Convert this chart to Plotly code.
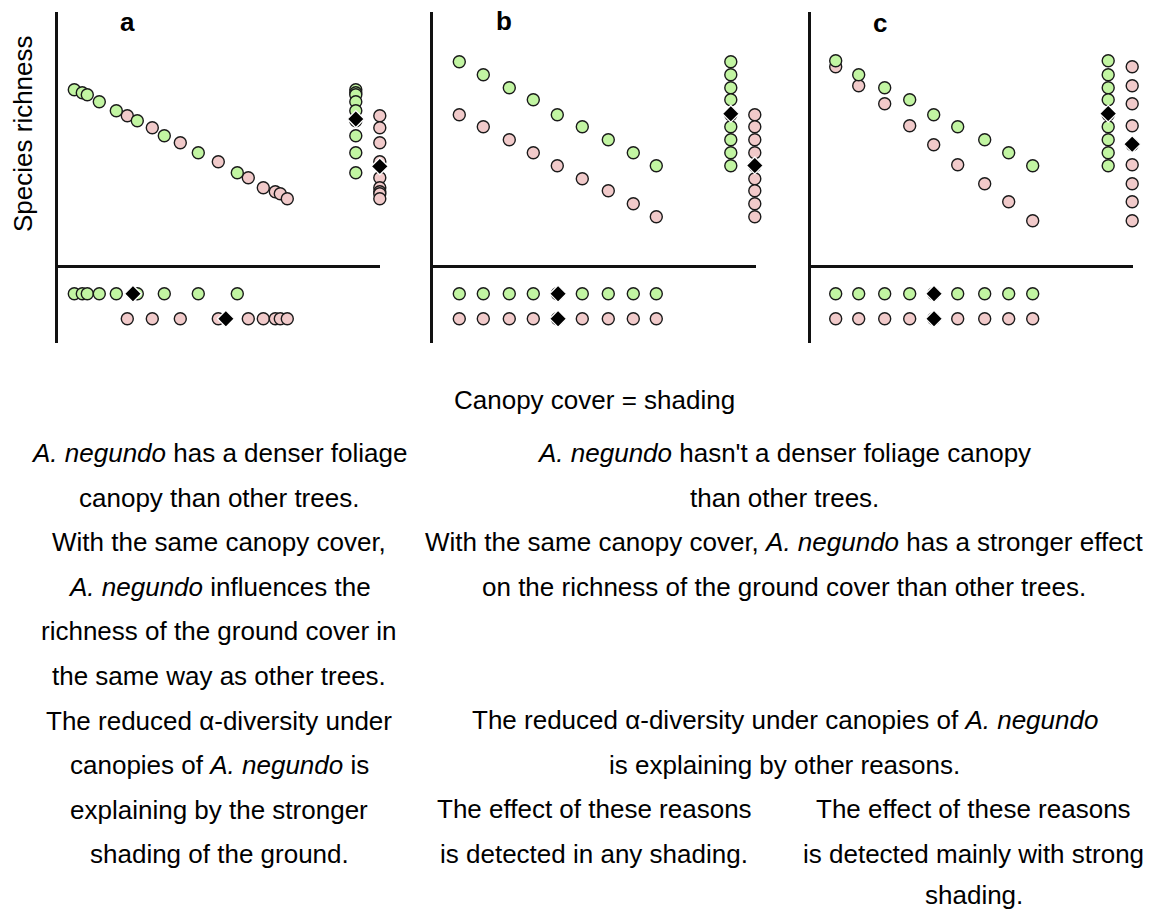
import numpy as np
import plotly.graph_objects as go

# ---- data: canopy cover (x) and species richness (y) -------------------------
# "other" = plots under other trees (green), "negundo" = plots under A. negundo (pink)
a_cover_other = [16, 24, 29, 41, 58, 79, 106, 140, 179]
a_rich_other = [177, 174, 172, 165, 156, 146, 131, 114, 94]
a_cover_negundo = [69, 94, 122, 160, 190, 205, 217, 222, 229]
a_rich_negundo = [151, 139, 124, 105, 89, 79, 75, 73, 68]

b_cover_other = [26, 50, 76, 100, 124, 149, 175, 200, 223]
b_rich_other = [205, 192, 179, 167, 152, 140, 127, 114, 101]
b_cover_negundo = [26, 50, 76, 100, 124, 149, 175, 200, 223]
b_rich_negundo = [152, 140, 127, 114, 101, 88, 76, 63, 50]

c_cover_other = [25, 48, 74, 99, 123, 147, 174, 198, 222]
c_rich_other = [206, 192, 179, 167, 152, 140, 127, 114, 101]
c_cover_negundo = [25, 48, 74, 99, 123, 147, 174, 198, 222]
c_rich_negundo = [200, 181, 163, 141, 122, 102, 83, 65, 46]

panel_labels = ["a", "b", "c"]

# ---- layout constants ---------------------------------------------------------
W, H = 1152, 910
GREEN = "#c2f5a2"
PINK = "#f1caca"
EDGE = "#1a1a1a"
FONT = "Liberation Sans, Arial, sans-serif"
FS = 26

# marginal strips (in data units of each panel)
ROW_OTHER, ROW_NEGUNDO = -27, -52      # cover strips below the axis
COL_OTHER, COL_NEGUNDO = 297.5, 321.5  # richness strips at the right

# pixel boxes of the three panels: (left, right)
panel_px = [(58.3, 380.0), (433.3, 756.0), (810.7, 1132.7)]
TOP_PX, BOT_PX, ZERO_PX = 12.0, 343.3, 266.7

panels = [
    (a_cover_other, a_rich_other, a_cover_negundo, a_rich_negundo),
    (b_cover_other, b_rich_other, b_cover_negundo, b_rich_negundo),
    (c_cover_other, c_rich_other, c_cover_negundo, c_rich_negundo),
]

fig = go.Figure()

circle = dict(symbol="circle", size=12, line=dict(color=EDGE, width=1.4))
diamond = dict(symbol="diamond", size=13, color="black", line=dict(color="white", width=1.3))

for i, (cx_o, ry_o, cx_n, ry_n) in enumerate(panels):
    ax = "" if i == 0 else str(i + 1)
    xa, ya = "x" + ax, "y" + ax
    n_o, n_n = len(cx_o), len(cx_n)

    def add(x, y, marker):
        fig.add_trace(go.Scatter(x=x, y=y, mode="markers", marker=marker,
                                 xaxis=xa, yaxis=ya, showlegend=False,
                                 hoverinfo="skip", cliponaxis=False))

    # main scatter: A. negundo first, other trees on top
    add(cx_n, ry_n, dict(circle, color=PINK))
    add(cx_o, ry_o, dict(circle, color=GREEN))
    # cover distribution below the axis
    add(cx_o, [ROW_OTHER] * n_o, dict(circle, color=GREEN))
    add(cx_n, [ROW_NEGUNDO] * n_n, dict(circle, color=PINK))
    # richness distribution at the right
    add([COL_OTHER] * n_o, ry_o, dict(circle, color=GREEN))
    add([COL_NEGUNDO] * n_n, ry_n, dict(circle, color=PINK))
    # means
    add([np.mean(cx_o), np.mean(cx_n), COL_OTHER, COL_NEGUNDO],
        [ROW_OTHER, ROW_NEGUNDO, np.mean(ry_o), np.mean(ry_n)], diamond)

    left, right = panel_px[i]
    fig.layout["xaxis" + ax] = dict(
        domain=[left / W, right / W], range=[0, right - left],
        showgrid=False, zeroline=False, showline=False,
        showticklabels=False, ticks="", anchor=ya, fixedrange=True)
    fig.layout["yaxis" + ax] = dict(
        domain=[1 - BOT_PX / H, 1 - TOP_PX / H],
        range=[ZERO_PX - BOT_PX, ZERO_PX - TOP_PX],
        showgrid=False, showticklabels=False, ticks="",
        showline=True, linecolor="#111", linewidth=2.5,
        zeroline=True, zerolinecolor="#111", zerolinewidth=2.5,
        anchor=xa, fixedrange=True)

annotations = []


def text(x, y, s, size=FS, **kw):
    annotations.append(dict(x=x / W, y=1 - y / H, xref="paper", yref="paper",
                            text=s, showarrow=False, xanchor="center",
                            yanchor="middle", font=dict(family=FONT, size=size,
                                                        color="black"), **kw))


# panel letters
for lab, (px, py) in zip(panel_labels, [(127, 22), (504, 21), (880, 23)]):
    text(px, py, "<b>%s</b>" % lab)

text(23, 134, "Species richness", textangle=-90)
text(594, 400, "Canopy cover = shading")

AN = "<i>A. negundo</i>"
left_lines = [
    f"{AN} has a denser foliage",
    "canopy than other trees.",
    "With the same canopy cover,",
    f"{AN} influences the",
    "richness of the ground cover in",
    "the same way as other trees.",
    "The reduced α-diversity under",
    f"canopies of {AN} is",
    "explaining by the stronger",
    "shading of the ground.",
]
for k, s in enumerate(left_lines):
    text(219, 453 + 44.6 * k, s)

right_lines = [
    (784, 453, f"{AN} hasn't a denser foliage canopy"),
    (784, 498, "than other trees."),
    (784, 542, f"With the same canopy cover, {AN} has a stronger effect"),
    (784, 587, "on the richness of the ground cover than other trees."),
    (785, 720, f"The reduced α-diversity under canopies of {AN}"),
    (784, 765, "is explaining by other reasons."),
    (594, 809, "The effect of these reasons"),
    (594, 854, "is detected in any shading."),
    (973, 809, "The effect of these reasons"),
    (973, 854, "is detected mainly with strong"),
    (974, 895, "shading."),
]
for x, y, s in right_lines:
    text(x, y, s)

fig.update_layout(
    width=W, height=H, margin=dict(l=0, r=0, t=0, b=0),
    paper_bgcolor="white", plot_bgcolor="rgba(0,0,0,0)",
    annotations=annotations, showlegend=False,
)

fig.write_html("out.html", config={"displayModeBar": False})
